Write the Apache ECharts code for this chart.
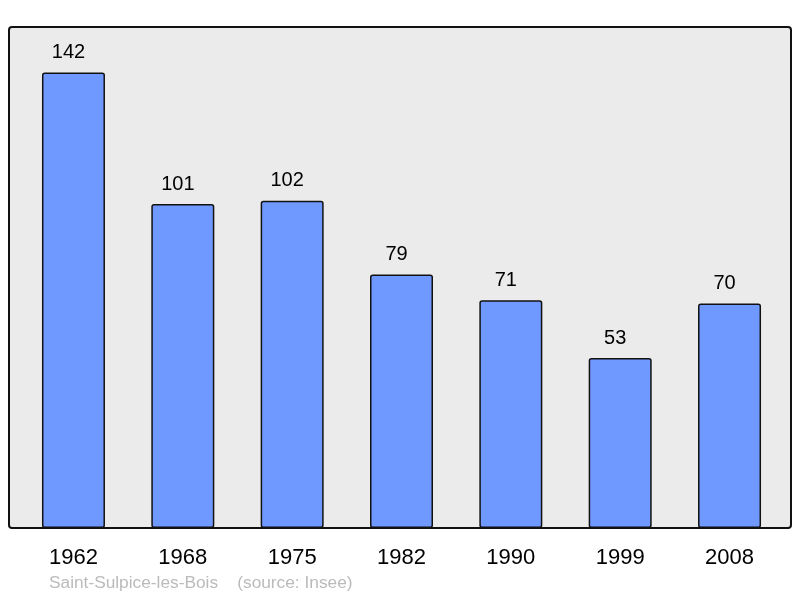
<!DOCTYPE html>
<html><head><meta charset="utf-8">
<script src="https://cdn.jsdelivr.net/npm/echarts@6/dist/echarts.min.js"></script>
<style>html,body{margin:0;padding:0;background:#fff}#c{width:800px;height:598px}</style>
</head><body><div id="c"></div>
<script>
const years = ['1962','1968','1975','1982','1990','1999','2008'];
const population = [142, 101, 102, 79, 71, 53, 70];
const footerText = 'Saint-Sulpice-les-Bois    (source: Insee)';

const chart = echarts.init(document.getElementById('c'), null, {renderer:'canvas'});
chart.setOption({
  animation:false,
  backgroundColor:'#ffffff',
  graphic:[
    {type:'rect', z:-10, shape:{x:9, y:27, width:782, height:501, r:3},
     style:{fill:'#ebebeb', stroke:'#111', lineWidth:2}},
    {type:'text', left:49, top:575, style:{text:footerText, fill:'#bbbbbb', font:'17.3px "Liberation Sans", Arial, sans-serif'}}
  ],
  grid:{left:18.8, right:15.8, top:27, bottom:70, containLabel:false},
  xAxis:{type:'category', data:years,
    axisLine:{show:false}, axisTick:{show:false},
    axisLabel:{color:'#000', fontSize:22, fontFamily:'Liberation Sans, Arial, sans-serif', margin:19}},
  yAxis:{type:'value', min:0, max:156.2, show:false, splitLine:{show:false}},
  series:[{type:'bar', data:population, barWidth:63,
    itemStyle:{color:'#7099ff', borderColor:'#111', borderWidth:1.5, borderRadius:2},
    label:{show:true, position:'top', distance:10, offset:[-5,0], color:'#000', fontSize:20, fontFamily:'Liberation Sans, Arial, sans-serif'}}]
});
</script></body></html>
